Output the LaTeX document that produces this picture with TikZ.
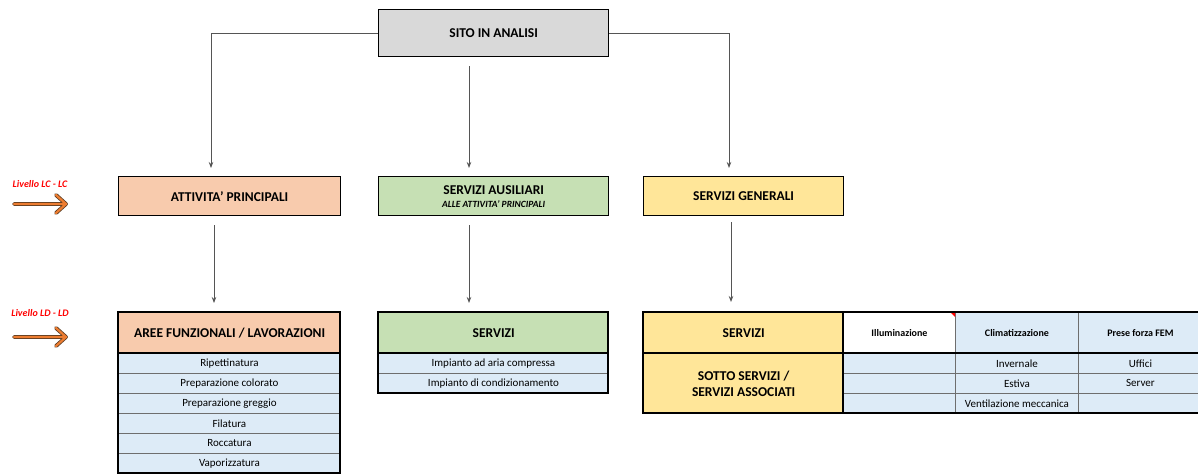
\documentclass[tikz,border=0pt]{standalone}
\usepackage{fontspec}
\setmainfont{Carlito}
\usetikzlibrary{arrows.meta}
\definecolor{peach}{HTML}{F8CBAD}
\definecolor{sgreen}{HTML}{C6E0B4}
\definecolor{syellow}{HTML}{FFE699}
\definecolor{sgray}{HTML}{D9D9D9}
\definecolor{cellblue}{HTML}{DDEBF7}
\definecolor{rowgray}{HTML}{6E6E6E}
\definecolor{linegray}{HTML}{555555}
\definecolor{arrorange}{HTML}{ED7D31}
\definecolor{arrdark}{HTML}{5A3A20}
\newcommand{\apos}{\symbol{39}}
\tikzset{
  box/.style={draw=black, line width=1.3pt, inner sep=0pt, anchor=north west, align=center,
              font=\bfseries\fontsize{13.5}{15}\selectfont},
  row/.style={draw=rowgray, line width=0.9pt, fill=cellblue, inner sep=0pt, anchor=north west,
              font=\fontsize{11}{12}\selectfont},
  hdr/.style={draw=rowgray, line width=0.9pt, fill=cellblue, inner sep=0pt, anchor=north west,
              font=\bfseries\fontsize{10}{11}\selectfont},
  frame/.style={draw=black, line width=1.3pt},
  conn/.style={draw=linegray, line width=0.8pt},
  arr/.style={conn, -{Stealth[length=6pt,width=4.5pt]}},
  lvlout/.style={draw=arrdark, line width=3.8pt, line cap=round, line join=round},
  lvlin/.style={draw=arrorange, line width=2.2pt, line cap=round, line join=round},
  lvltext/.style={text=red, font=\bfseries\itshape\fontsize{10}{11}\selectfont, inner sep=0pt}
}
\begin{document}
\begin{tikzpicture}[x=1pt,y=-1pt]
\useasboundingbox (0,0) rectangle (1198,474);

% top box
\node[box, fill=sgray, minimum width=230pt, minimum height=47pt] (top) at (378,9) {SITO IN ANALISI};

% level LC boxes
\node[box, fill=peach, minimum width=222pt, minimum height=39pt] (ap) at (118,176) {ATTIVITA\apos{} PRINCIPALI};
\node[box, fill=sgreen, minimum width=230pt, minimum height=39pt] (sa) at (378,176)
  {SERVIZI AUSILIARI\\[-2pt]{\fontsize{9.5}{10}\selectfont\itshape ALLE ATTIVITA\apos{} PRINCIPALI}};
\node[box, fill=syellow, minimum width=200pt, minimum height=39pt] (sg) at (643,176) {SERVIZI GENERALI};

% level LD: aree funzionali
\node[box, fill=peach, minimum width=222pt, minimum height=41pt] (af) at (118,312) {AREE FUNZIONALI / LAVORAZIONI};
\foreach \t [count=\i from 0] in {Ripettinatura,Preparazione colorato,Preparazione greggio,Filatura,Roccatura,Vaporizzatura}{
  \node[row, minimum width=222pt, minimum height=20pt] (afr\i) at (118,353+20*\i) {\t};
}
\draw[frame] (af.north west) rectangle (340,473);
\draw[frame] (118,353) -- (340,353);

% servizi (green)
\node[box, fill=sgreen, minimum width=230pt, minimum height=41pt] (sv) at (378,312) {SERVIZI};
\foreach \t [count=\i from 0] in {Impianto ad aria compressa,Impianto di condizionamento}{
  \node[row, minimum width=230pt, minimum height=20pt] (svr\i) at (378,353+20*\i) {\t};
}
\draw[frame] (sv.north west) rectangle (608,393);
\draw[frame] (378,353) -- (608,353);

% servizi generali table
\node[box, fill=syellow, minimum width=200pt, minimum height=41pt] (sgs) at (643,312) {SERVIZI};
\node[box, fill=syellow, minimum width=200pt, minimum height=60pt] (sot) at (643,353) {SOTTO SERVIZI /\\[1pt]SERVIZI ASSOCIATI};
\node[hdr, fill=white, minimum width=112pt, minimum height=41pt] (ill) at (843,312) {Illuminazione};
\node[hdr, minimum width=123pt, minimum height=41pt] (cli) at (955,312) {Climatizzazione};
\node[hdr, minimum width=124pt, minimum height=41pt] (pre) at (1078,312) {Prese forza FEM};
\foreach \t [count=\i from 0] in {{},{},{}}{
  \node[row, minimum width=112pt, minimum height=20pt] (illr\i) at (843,353+20*\i) {\t};
}
\foreach \t [count=\i from 0] in {Invernale,Estiva,Ventilazione meccanica}{
  \node[row, minimum width=123pt, minimum height=20pt] (clir\i) at (955,353+20*\i) {\t};
}
\foreach \t [count=\i from 0] in {Uffici,Server,{}}{
  \node[row, minimum width=124pt, minimum height=20pt] (prer\i) at (1078,353+20*\i) {\t};
}
\fill[red] (950,312) -- (955,312) -- (955,317) -- cycle;
\draw[frame] (643,312) rectangle (1202,413);
\draw[frame] (643,353) -- (1202,353);
\draw[frame] (843,312) -- (843,413);

% connectors from top
\coordinate (e1) at (211,168);
\coordinate (s2) at (469,66);
\coordinate (e2) at (469,168);
\coordinate (e3) at (729,168);
\draw[arr] (top.west) -| (e1);
\draw[arr] (s2) -- (e2);
\draw[arr] (top.east) -| (e3);

% connectors LC -> LD
\coordinate (f1) at (214,225);
\coordinate (g1) at (214,303);
\coordinate (f2) at (469,225);
\coordinate (g2) at (469,303);
\coordinate (f3) at (731,222);
\coordinate (g3) at (731,302);
\draw[arr] (f1) -- (g1);
\draw[arr] (f2) -- (g2);
\draw[arr] (f3) -- (g3);

% level labels and arrows
\node[lvltext] (lc) at (40,184) {Livello LC - LC};
\node[lvltext] (ld) at (40,313) {Livello LD - LD};
\coordinate (lca) at (14,204);
\coordinate (lcb) at (66,204);
\coordinate (lcu) at (56,195);
\coordinate (lcd) at (56,213);
\draw[lvlout] (lca) -- (lcb) (lcu) -- (lcb) -- (lcd);
\draw[lvlin] (lca) -- (lcb) (lcu) -- (lcb) -- (lcd);
\coordinate (lda) at (14,337);
\coordinate (ldb) at (66,337);
\coordinate (ldu) at (56,328);
\coordinate (ldd) at (56,346);
\draw[lvlout] (lda) -- (ldb) (ldu) -- (ldb) -- (ldd);
\draw[lvlin] (lda) -- (ldb) (ldu) -- (ldb) -- (ldd);
\end{tikzpicture}
\end{document}
